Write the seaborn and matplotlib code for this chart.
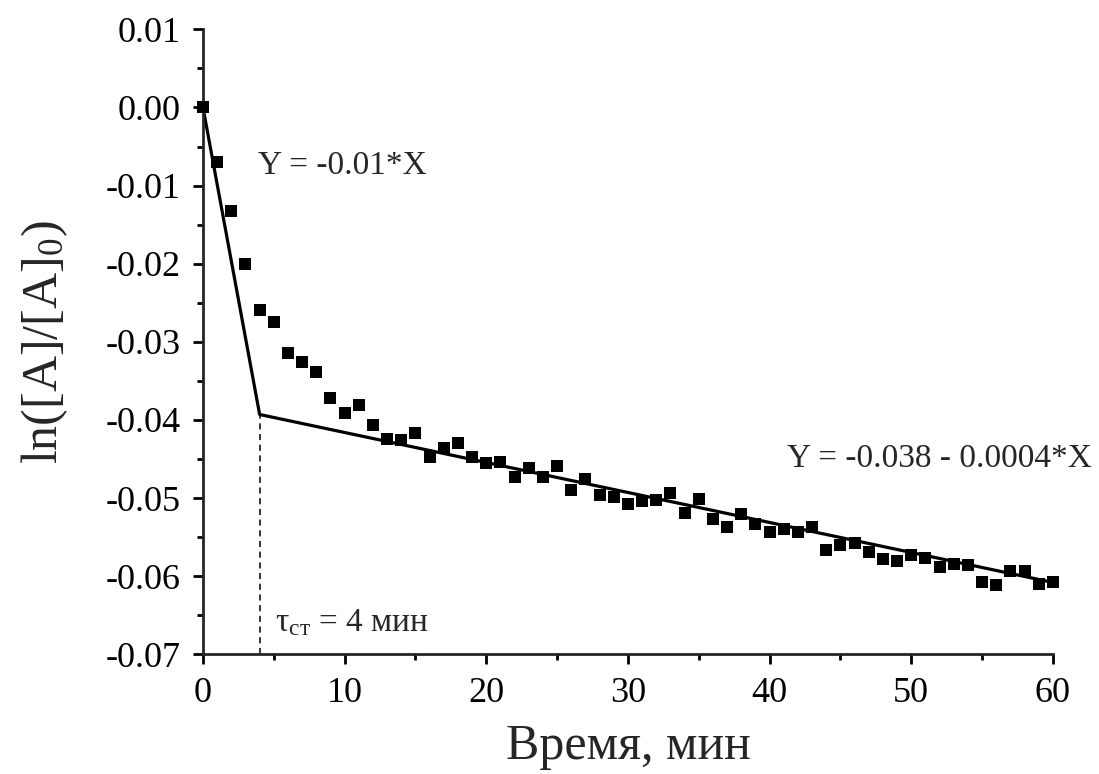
"""Scatter: ln([A]/[A]0) vs time with two-segment linear fit."""
import numpy as np
import pandas as pd
import matplotlib
matplotlib.use("Agg")
import matplotlib.pyplot as plt
from matplotlib.ticker import MultipleLocator, FormatStrFormatter
import seaborn as sns

# measured points, minutes 0..60
time_min = list(range(0, 61))
ln_ratio = [
    0.0000, -0.0070, -0.0133, -0.0200, -0.0259, -0.0275, -0.0314, -0.0326,
    -0.0338, -0.0372, -0.0391, -0.0381, -0.0406, -0.0424, -0.0426, -0.0417,
    -0.0447, -0.0436, -0.0430, -0.0448, -0.0455, -0.0454, -0.0473, -0.0461,
    -0.0473, -0.0459, -0.0490, -0.0476, -0.0496, -0.0498, -0.0507, -0.0504,
    -0.0502, -0.0494, -0.0519, -0.0501, -0.0527, -0.0537, -0.0520, -0.0533,
    -0.0544, -0.0540, -0.0544, -0.0537, -0.0567, -0.0560, -0.0557, -0.0569,
    -0.0578, -0.0581, -0.0573, -0.0577, -0.0588, -0.0585, -0.0586, -0.0607,
    -0.0611, -0.0593, -0.0593, -0.0610, -0.0607,
]

# two-segment fit (break at stationary time)
fit_x = [0, 4, 60]
fit_y = [0.0, -0.0393, -0.0608]
t_st = 4

df = pd.DataFrame({"t": time_min, "y": ln_ratio})
fit = pd.DataFrame({"t": fit_x, "y": fit_y})

sns.set_theme(style="ticks")
plt.rcParams["font.family"] = ["Liberation Serif", "DejaVu Serif"]
plt.rcParams["mathtext.fontset"] = "custom"
plt.rcParams["mathtext.rm"] = "Liberation Serif"
plt.rcParams["mathtext.it"] = "Liberation Serif:italic"
plt.rcParams["axes.unicode_minus"] = False

fig = plt.figure(figsize=(10.99, 7.74), dpi=100)
ax = fig.add_axes([0.1847, 0.1546, 0.958 - 0.1847, 0.9621 - 0.1546])

sns.scatterplot(data=df, x="t", y="y", marker="s", s=80, color="black",
                linewidth=0, ax=ax, zorder=3, clip_on=False)
sns.lineplot(data=fit, x="t", y="y", color="black", linewidth=2.3,
             sort=False, ax=ax, zorder=2)
ax.plot([t_st, t_st], [-0.07, fit_y[1]], color="black", linewidth=1.1,
        linestyle=(0, (4, 3)))

ax.set_xlim(0, 60)
ax.set_ylim(-0.07, 0.01)
ax.xaxis.set_major_locator(MultipleLocator(10))
ax.xaxis.set_minor_locator(MultipleLocator(5))
ax.yaxis.set_major_locator(MultipleLocator(0.01))
ax.yaxis.set_minor_locator(MultipleLocator(0.005))
ax.yaxis.set_major_formatter(FormatStrFormatter("%.2f"))
ax.xaxis.set_major_formatter(FormatStrFormatter("%d"))

for s in ["top", "right"]:
    ax.spines[s].set_visible(False)
for s in ["left", "bottom"]:
    ax.spines[s].set_linewidth(2)
ax.tick_params(which="major", direction="out", length=7, width=2,
               labelsize=26, pad=9, color="black", labelcolor="black")
ax.tick_params(which="minor", direction="out", length=4, width=2,
               color="black")

ax.set_xlabel("Время, мин", fontsize=36, labelpad=10)
ax.set_ylabel("ln([A]/[A]$_\\mathrm{0}$)", fontsize=36, labelpad=26)

ax.text(3.9, -0.0074, "Y = -0.01*X", fontsize=24, va="center", ha="left")
ax.text(41.2, -0.0450, "Y = -0.038 - 0.0004*X", fontsize=24,
        va="center", ha="left", clip_on=False)
ax.text(5.1, -0.0660, "$\\mathrm{τ_{ст}}$ = 4 мин", fontsize=24,
        va="center", ha="left")

fig.savefig("out.png", dpi=100)
